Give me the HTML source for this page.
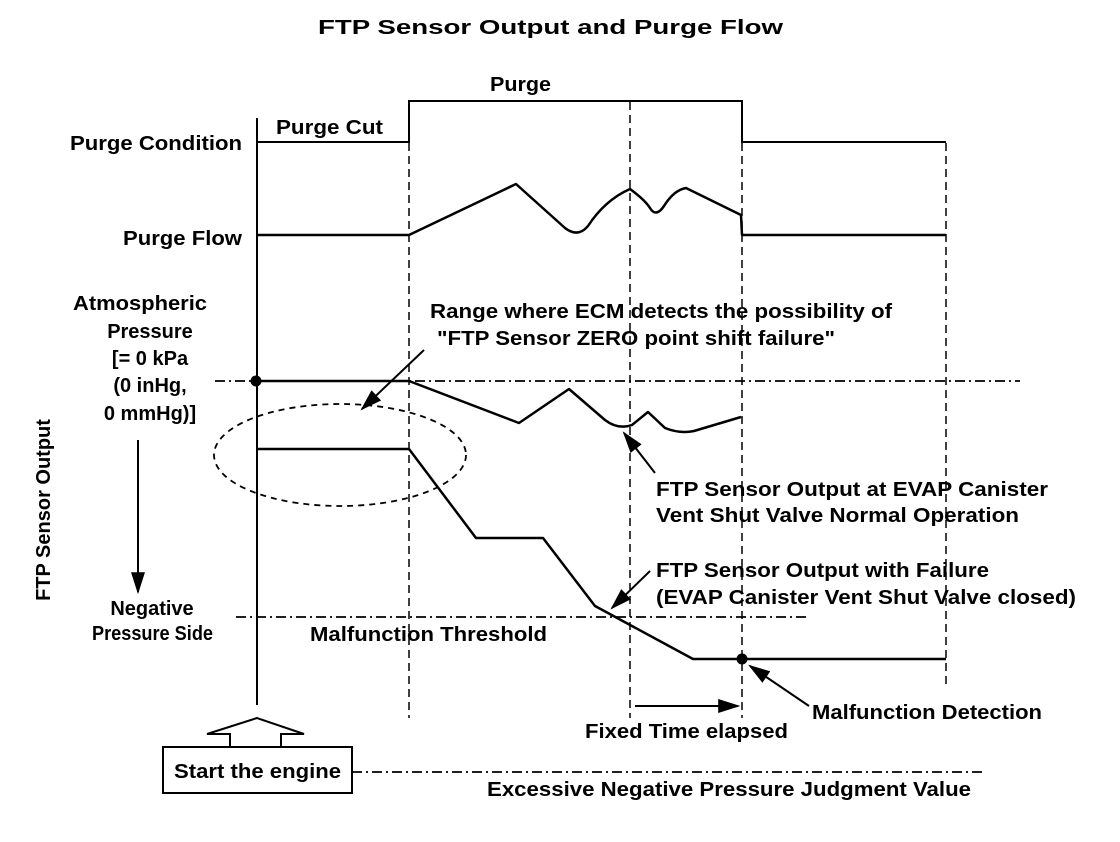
<!DOCTYPE html>
<html><head><meta charset="utf-8"><style>
html,body{margin:0;padding:0;background:#fff;}
svg{display:block;}
text{font-family:"Liberation Sans",Arial,sans-serif;font-weight:bold;fill:#000;font-size:20px;}
</style></head><body>
<svg width="1120" height="842" viewBox="0 0 1120 842" xmlns="http://www.w3.org/2000/svg">
<defs>
<marker id="ah2" viewBox="0 0 10 10" refX="9" refY="5" markerWidth="22" markerHeight="14" orient="auto" markerUnits="userSpaceOnUse" preserveAspectRatio="none">
<path d="M0,0 L10,5 L0,10 z" fill="#000"/></marker>
</defs>
<text x="318" y="34" font-size="25" textLength="465" lengthAdjust="spacingAndGlyphs">FTP Sensor Output and Purge Flow</text>

<line x1="257" y1="118" x2="257" y2="705" stroke="#000" stroke-width="2"/>

<g stroke="#000" stroke-width="1.5" stroke-dasharray="8,5" fill="none">
<line x1="409" y1="143" x2="409" y2="718"/>
<line x1="630" y1="102" x2="630" y2="718"/>
<line x1="742" y1="143" x2="742" y2="718"/>
<line x1="946" y1="143" x2="946" y2="688"/>
</g>

<polyline points="257,142 409,142 409,101 742,101 742,142 946,142" fill="none" stroke="#000" stroke-width="2"/>
<path d="M257,235 L409,235 L516,184 Q545,210 565,228 Q578,238 588,226 Q605,200 630,189 Q645,200 650,208 Q656,218 664,206 Q674,190 686,188 L741,215 L742,235 L946,235" fill="none" stroke="#000" stroke-width="2.5" stroke-linejoin="round"/>

<g stroke="#000" stroke-width="1.8" stroke-dasharray="10,4,2,4" fill="none">
<line x1="215" y1="381" x2="1020" y2="381"/>
<line x1="236" y1="617" x2="808" y2="617"/>
<line x1="352" y1="772" x2="983" y2="772"/>
</g>

<path d="M257,381 L409,381 L519,423 L569,389 L605,420 Q618,430 632,425 L648,412 L665,428 Q680,434 694,431 L741,417" fill="none" stroke="#000" stroke-width="2.5" stroke-linejoin="round"/>
<circle cx="256" cy="381" r="5.5" fill="#000"/>

<polyline points="257,449 409,449 476,538 543,538 595,606 693,659 946,659" fill="none" stroke="#000" stroke-width="2.5" stroke-linejoin="round"/>
<circle cx="742" cy="659" r="5.5" fill="#000"/>

<ellipse cx="340" cy="455" rx="126" ry="51" fill="none" stroke="#000" stroke-width="1.8" stroke-dasharray="6,5"/>

<g stroke="#000" stroke-width="2" fill="none">
<line x1="424" y1="350" x2="362" y2="409" marker-end="url(#ah2)"/>
<line x1="655" y1="473" x2="624" y2="433" marker-end="url(#ah2)"/>
<line x1="650" y1="571" x2="612" y2="608" marker-end="url(#ah2)"/>
<line x1="809" y1="706" x2="750" y2="666" marker-end="url(#ah2)"/>
<line x1="635" y1="706" x2="738" y2="706" marker-end="url(#ah2)"/>
<line x1="138" y1="440" x2="138" y2="592" marker-end="url(#ah2)"/>
</g>

<polygon points="257,718 207,734 230,734 230,747 281,747 281,734 304,734" fill="#fff" stroke="#000" stroke-width="2"/>
<rect x="163" y="747" width="189" height="46" fill="#fff" stroke="#000" stroke-width="2"/>
<text x="174" y="778" textLength="167" lengthAdjust="spacingAndGlyphs">Start the engine</text>

<text x="70" y="150" textLength="172" lengthAdjust="spacingAndGlyphs">Purge Condition</text>
<text x="123" y="245" textLength="119" lengthAdjust="spacingAndGlyphs">Purge Flow</text>
<text x="276" y="134" textLength="107" lengthAdjust="spacingAndGlyphs">Purge Cut</text>
<text x="490" y="91" textLength="61" lengthAdjust="spacingAndGlyphs">Purge</text>
<g text-anchor="middle">
<text x="150" y="338">Pressure</text>
<text x="150" y="365">[= 0 kPa</text>
<text x="150" y="392">(0 inHg,</text>
<text x="150" y="420">0 mmHg)]</text>
<text x="152" y="615">Negative</text>
</g>
<text x="73" y="310" textLength="134" lengthAdjust="spacingAndGlyphs">Atmospheric</text>
<text x="92" y="640" textLength="121" lengthAdjust="spacingAndGlyphs">Pressure Side</text>
<text x="0" y="0" text-anchor="middle" transform="translate(50,510) rotate(-90)">FTP Sensor Output</text>
<text x="430" y="318" textLength="462" lengthAdjust="spacingAndGlyphs">Range where ECM detects the possibility of</text>
<text x="437" y="345" textLength="398" lengthAdjust="spacingAndGlyphs">"FTP Sensor ZERO point shift failure"</text>
<text x="656" y="496" textLength="392" lengthAdjust="spacingAndGlyphs">FTP Sensor Output at EVAP Canister</text>
<text x="656" y="522" textLength="363" lengthAdjust="spacingAndGlyphs">Vent Shut Valve Normal Operation</text>
<text x="656" y="577" textLength="333" lengthAdjust="spacingAndGlyphs">FTP Sensor Output with Failure</text>
<text x="656" y="604" textLength="420" lengthAdjust="spacingAndGlyphs">(EVAP Canister Vent Shut Valve closed)</text>
<text x="310" y="641" textLength="237" lengthAdjust="spacingAndGlyphs">Malfunction Threshold</text>
<text x="812" y="719" textLength="230" lengthAdjust="spacingAndGlyphs">Malfunction Detection</text>
<text x="585" y="738" textLength="203" lengthAdjust="spacingAndGlyphs">Fixed Time elapsed</text>
<text x="487" y="796" textLength="484" lengthAdjust="spacingAndGlyphs">Excessive Negative Pressure Judgment Value</text>
</svg>
</body></html>
